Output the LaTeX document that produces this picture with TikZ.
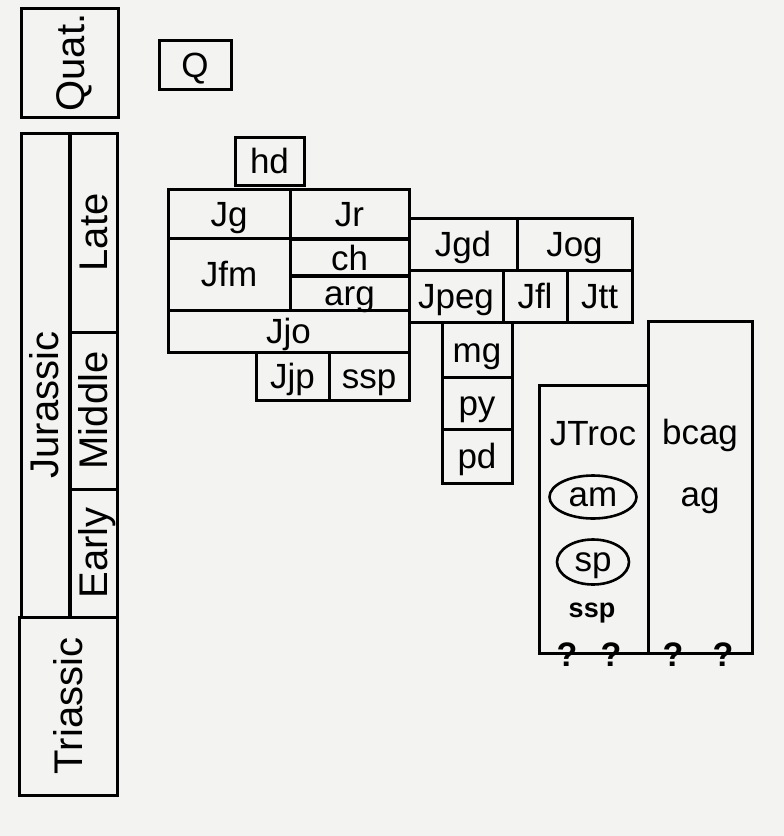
\documentclass[tikz,border=0pt]{standalone}
\usepackage{fontspec}
\setmainfont{Liberation Sans}
\usetikzlibrary{shapes.geometric}
\definecolor{paper}{HTML}{F3F3F1}

\begin{document}
\begin{tikzpicture}[x=1pt, y=-1pt,
  unidad/.style 2 args={draw, line width=3pt, inner sep=0pt, minimum width=#1pt,
               minimum height=#2pt, text height=25pt, text depth=0pt,
               font=\fontsize{35}{40}\selectfont},
  periodo/.style 2 args={unidad={#1}{#2}, text height=29pt, font=\fontsize{40}{44}\selectfont},
  texto/.style={inner sep=0pt, text height=25pt, text depth=0pt,
               font=\fontsize{35}{40}\selectfont},
  ovalo/.style 2 args={ellipse, draw, line width=2.6pt, inner sep=0pt, minimum width=#1pt,
               minimum height=#2pt, text height=18pt, text depth=0pt,
               font=\fontsize{35}{40}\selectfont},
  duda/.style={inner sep=0pt, font=\fontsize{34}{38}\selectfont\bfseries}]
\fill[paper] (0,0) rectangle (784,836);
\useasboundingbox (0,0) rectangle (784,836);
% time scale
\node[periodo={109}{97}, rotate=90] (quat) at (70,62.5) {Quat.};
\node[periodo={49}{484}] (jur) at (45.5,375) {};
\node[texto, text height=29pt, font=\fontsize{40}{44}\selectfont, rotate=90] (jurt) at (44,405) {Jurassic};
\node[periodo={199}{48}, rotate=90] (late) at (93,232.5) {Late};
\node[periodo={157}{48}, rotate=90] (mid) at (93,410.5) {Middle};
\node[periodo={128}{48}, rotate=90] (early) at (93,553) {Early};
\node[periodo={178}{98}, rotate=90] (tri) at (68,706) {Triassic};
% units
\node[unidad={72}{49}] (q) at (195,64.5) {Q};
\node[unidad={69}{48}] (hd) at (269.5,161) {hd};
\node[unidad={122}{49}] (jg) at (229,213.5) {Jg};
\node[unidad={119}{49}] (jr) at (349.5,213.5) {Jr};
\node[unidad={122}{72}] (jfm) at (229,274) {Jfm};
\node[unidad={119}{37}] (ch) at (349.5,258) {ch};
\node[unidad={119}{35}] (arg) at (349.5,292.5) {arg};
\node[unidad={241}{42}] (jo) at (288.5,331) {Jjo};
\node[unidad={73}{48}] (jjp) at (292.5,376) {Jjp};
\node[unidad={80}{48}] (ssp) at (369,376) {ssp};
\node[unidad={108}{52}] (jgd) at (463,244) {Jgd};
\node[unidad={115}{52}] (jog) at (574.5,244) {Jog};
\node[unidad={94}{52}] (jpeg) at (456,296) {Jpeg};
\node[unidad={64}{52}] (jfl) at (535,296) {Jfl};
\node[unidad={65}{52}] (jtt) at (599.5,296) {Jtt};
\node[unidad={70}{55}] (mg) at (477,349.5) {mg};
\node[unidad={70}{52}] (py) at (477,403) {py};
\node[unidad={70}{54}] (pd) at (477,456) {pd};
% columns
\node[unidad={109}{268}] (troc) at (593.5,519) {};
\node[unidad={104}{332}] (bcag) at (700,487) {};
\node[texto] (troct) at (593,433) {JTroc};
\node[ovalo={87}{43}] (am) at (593,497) {am};
\node[ovalo={72}{45}] (sp) at (593,562) {sp};
\node[texto, text height=19pt, font=\fontsize{27}{30}\selectfont\bfseries] (ssp2) at (592,608) {ssp};
\node[texto] (bcagt) at (700,432) {bcag};
\node[texto] (ag) at (700,494) {ag};
\node[duda] (d1) at (567,655) {?};
\node[duda] (d2) at (611,655) {?};
\node[duda] (d3) at (673,655) {?};
\node[duda] (d4) at (723,655) {?};
\end{tikzpicture}
\end{document}
